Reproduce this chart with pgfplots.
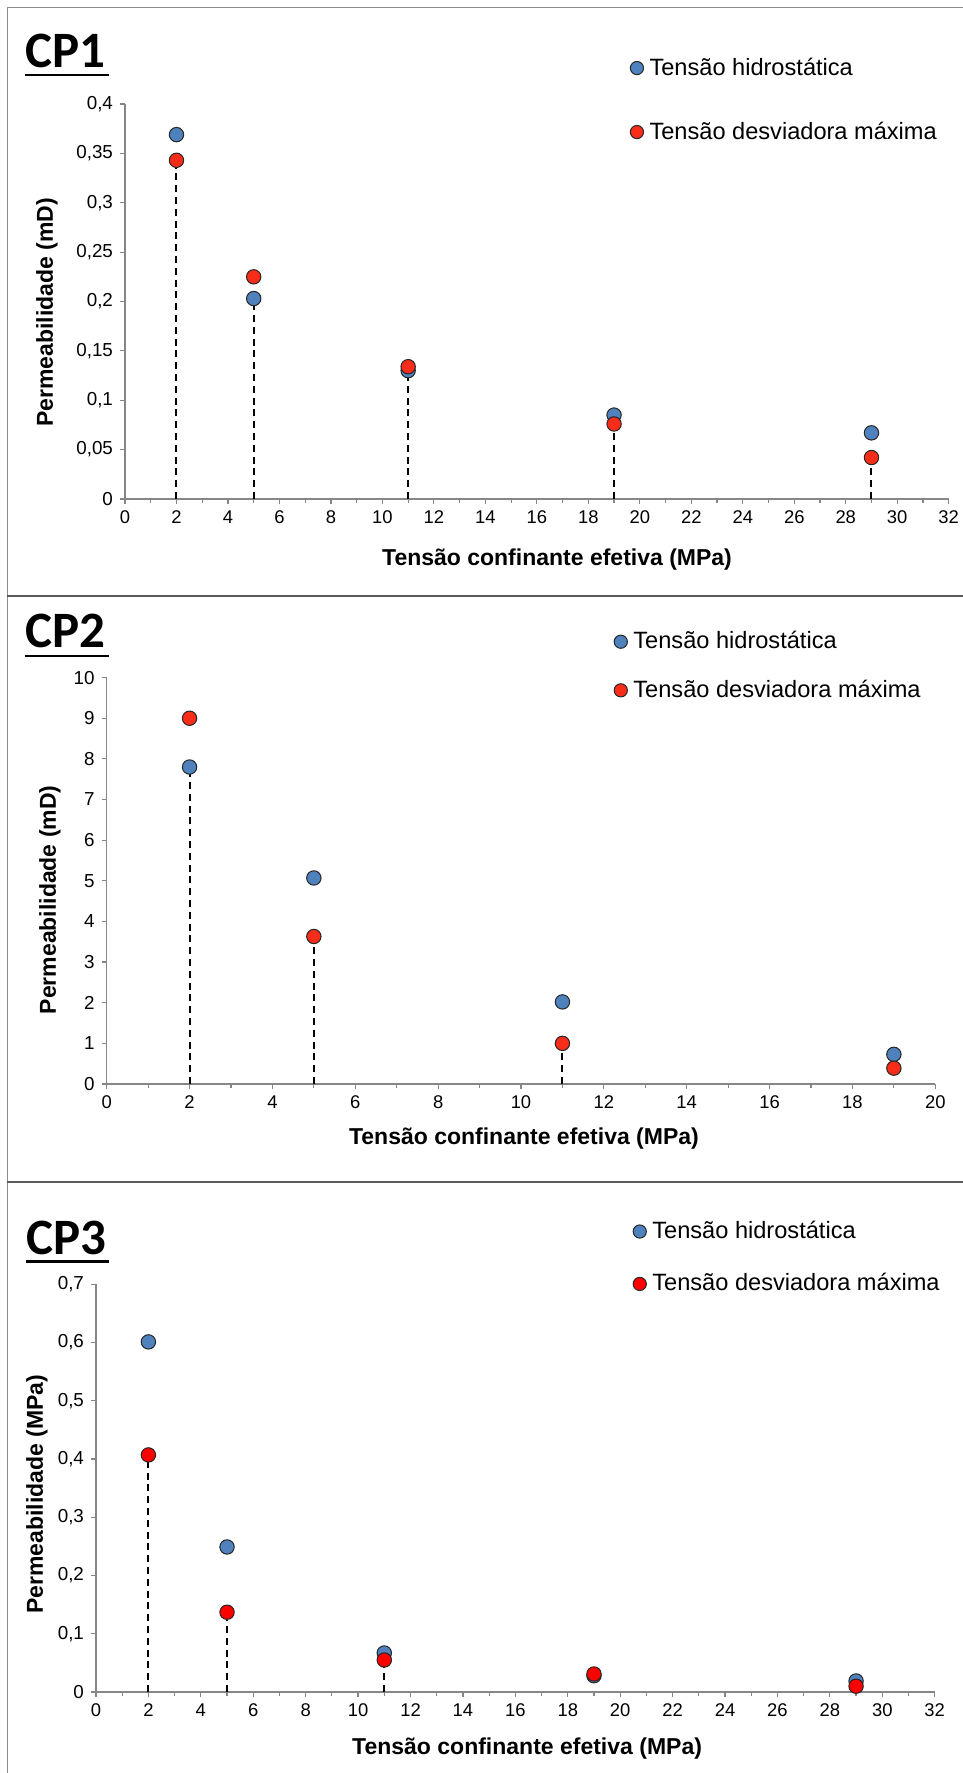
\documentclass[border=0pt]{standalone}
\usepackage{fontspec}
\setmainfont{Liberation Sans}
\newfontfamily\calibri{Carlito}
\usepackage{pgfplots}
\pgfplotsset{compat=1.18}

\definecolor{cpblue}{HTML}{4F81BD}
\definecolor{cpred}{HTML}{F72D1A}
\definecolor{cpred3}{HTML}{FF0000}
\definecolor{axgray}{HTML}{868686}
\definecolor{framegray}{HTML}{8C8C8C}
\definecolor{sepgray}{HTML}{5A5A5A}

\pgfplotsset{
  cpstyle/.style={
    scale only axis,
    anchor=south west,
    axis lines*=left,
    axis line style={axgray, line width=0.7pt},
    tick style={axgray, line width=0.6pt},
    tick align=outside,
    major tick length=2.5pt,
    minor tick length=1.8pt,
    clip=false,
    xmin=0, ymin=0,
    minor x tick num=1,
    scaled y ticks=false,
    tick label style={font=\fontsize{9.4}{11}\selectfont, /pgf/number format/assume math mode=true},
    xticklabel style={font=\fontsize{9.2}{11}\selectfont},
    yticklabel style={/pgf/number format/fixed, /pgf/number format/precision=2, /pgf/number format/use comma},
    label style={font=\fontsize{11.5}{13}\selectfont\bfseries},
    legend cell align=left,
    legend style={draw=none, fill=none, inner sep=0pt, column sep=1pt,
      font=\fontsize{11.8}{14}\selectfont,
      nodes={inner sep=2pt, text height=9pt, text depth=2pt}},
  },
  ponto/.style={only marks, mark=*, mark size=3.6pt,
    mark options={fill=#1, draw=black!85, line width=0.5pt},
    legend image code/.code={\draw[##1, mark size=3.3pt] plot coordinates {(0pt,0pt)};}},
  queda/.style={black, line width=1pt, dash pattern=on 3.5pt off 2.4pt,
    ycomb, forget plot, mark=none},
}

\begin{document}
\begin{tikzpicture}
\path[use as bounding box] (0,0) rectangle (481.5pt,-886.5pt);

% molduras dos paineis
\draw[framegray, line width=0.5pt] (3.65pt,-3.65pt) -- (3.65pt,-886.5pt);
\draw[framegray, line width=0.5pt] (3.65pt,-3.65pt) -- (481.5pt,-3.65pt);
\draw[sepgray, line width=1pt] (3.65pt,-298pt) -- (481.5pt,-298pt);
\draw[sepgray, line width=1pt] (3.65pt,-591pt) -- (481.5pt,-591pt);

% titulos
\node[anchor=base west, inner sep=0pt] at (12.5pt,-33.5pt) {\calibri\bfseries\fontsize{25.5}{30}\selectfont CP1};
\draw[line width=1.3pt] (12.5pt,-37.5pt) -- (54.6pt,-37.5pt);
\node[anchor=base west, inner sep=0pt] at (12.5pt,-323.5pt) {\calibri\bfseries\fontsize{25.5}{30}\selectfont CP2};
\draw[line width=1.3pt] (12.3pt,-328pt) -- (54.4pt,-328pt);
\node[anchor=base west, inner sep=0pt] at (12.9pt,-627pt) {\calibri\bfseries\fontsize{25.5}{30}\selectfont CP3};
\draw[line width=1.3pt] (12.9pt,-630.75pt) -- (54.6pt,-630.75pt);

% CP1
\begin{axis}[cpstyle,
  at={(62.5pt,-249.5pt)}, width=411.85pt, height=197.5pt,
  xmax=32, ymax=0.4,
  xtick={0,2,...,32},
  ytick={0,0.05,0.1,0.15,0.2,0.25,0.3,0.35,0.4},
  xlabel={Tensão confinante efetiva (MPa)},
  ylabel={Permeabilidade (mD)},
  xlabel style={at={(axis description cs:0.5245,-0.154)}, anchor=center},
  ylabel style={at={(axis description cs:-0.0947,0.473)}, anchor=center},
  legend style={at={(axis description cs:0.613,1.010)}, anchor=west, row sep=17pt},
]
\addplot[queda] coordinates {(2,0.343) (5,0.203) (11,0.130) (19,0.076) (29,0.042)};
\addplot[ponto=cpblue] coordinates {(2,0.369) (5,0.203) (11,0.130) (19,0.085) (29,0.067)};
\addplot[ponto=cpred] coordinates {(2,0.343) (5,0.225) (11,0.134) (19,0.076) (29,0.042)};
\legend{Tensão hidrostática, Tensão desviadora máxima}
\end{axis}

% CP2
\begin{axis}[cpstyle,
  at={(53.35pt,-542pt)}, width=414.3pt, height=203.2pt,
  xmax=20, ymax=10,
  xtick={0,2,...,20},
  ytick={0,1,...,10},
  xlabel={Tensão confinante efetiva (MPa)},
  ylabel={Permeabilidade (mD)},
  xlabel style={at={(axis description cs:0.5036,-0.133)}, anchor=center},
  ylabel style={at={(axis description cs:-0.0684,0.453)}, anchor=center},
  legend style={at={(axis description cs:0.612,1.0285)}, anchor=west, row sep=9.3pt},
]
\addplot[queda] coordinates {(2,7.80) (5,3.63) (11,1.0)};
\addplot[ponto=cpblue] coordinates {(2,7.80) (5,5.07) (11,2.02) (19,0.73)};
\addplot[ponto=cpred] coordinates {(2,9.0) (5,3.63) (11,1.0) (19,0.39)};
\legend{Tensão hidrostática, Tensão desviadora máxima}
\end{axis}

% CP3
\begin{axis}[cpstyle,
  at={(48pt,-846pt)}, width=419.35pt, height=203.9pt,
  xmax=32, ymax=0.7,
  xtick={0,2,...,32},
  ytick={0,0.1,0.2,0.3,0.4,0.5,0.6,0.7},
  xlabel={Tensão confinante efetiva (MPa)},
  ylabel={Permeabilidade (MPa)},
  xlabel style={at={(axis description cs:0.514,-0.1385)}, anchor=center},
  ylabel style={at={(axis description cs:-0.0703,0.4855)}, anchor=center},
  legend style={at={(axis description cs:0.640,1.065)}, anchor=west, row sep=11.2pt},
]
\addplot[queda] coordinates {(2,0.407) (5,0.137) (11,0.055)};
\addplot[ponto=cpblue] coordinates {(2,0.601) (5,0.249) (11,0.067) (19,0.028) (29,0.019)};
\addplot[ponto=cpred3] coordinates {(2,0.407) (5,0.137) (11,0.055) (19,0.031) (29,0.010)};
\legend{Tensão hidrostática, Tensão desviadora máxima}
\end{axis}
\end{tikzpicture}
\end{document}
